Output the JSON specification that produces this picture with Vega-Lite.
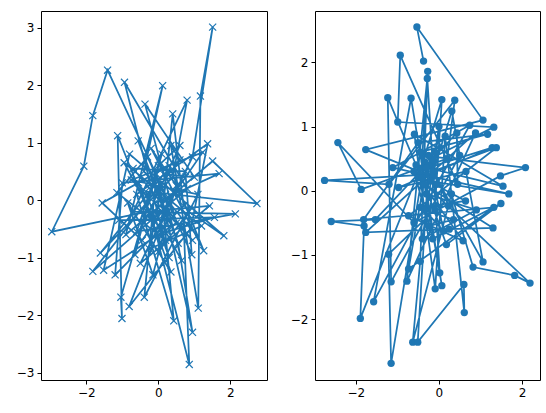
{
 "$schema": "https://vega.github.io/schema/vega-lite/v6.json",
 "padding": {"left": 15, "top": 10, "right": 5, "bottom": 5},
 "spacing": 21,
 "config": {
  "view": {"stroke": "black", "strokeWidth": 1},
  "axis": {"grid": false, "domain": false, "tickColor": "black", "tickSize": 4, "tickWidth": 1, "labelColor": "black", "labelFont": "DejaVu Sans", "labelFontSize": 12, "labelPadding": 3}
 },
 "hconcat": [
  {
   "width": 226, "height": 369,
   "data": {"values": [
    {"i":1,"x":0.2,"y":0.1},{"i":2,"x":-1.41,"y":2.26},{"i":3,"x":-1.82,"y":1.47},{"i":4,"x":-2.07,"y":0.59},{"i":5,"x":-2.96,"y":-0.55},
    {"i":6,"x":-0.3,"y":-0.2},{"i":7,"x":1.42,"y":-0.1},{"i":8,"x":-0.5,"y":-1.1},{"i":9,"x":0.95,"y":0.75},{"i":10,"x":1.51,"y":3.01},
    {"i":11,"x":1.17,"y":1.81},{"i":12,"x":1.11,"y":-1.88},{"i":13,"x":0.6,"y":0.7},{"i":14,"x":-1.82,"y":-1.24},{"i":15,"x":0.8,"y":0.2},
    {"i":16,"x":-0.94,"y":2.05},{"i":17,"x":0.3,"y":-1.0},{"i":18,"x":2.74,"y":-0.06},{"i":19,"x":1.51,"y":0.68},{"i":20,"x":-0.9,"y":-0.6},
    {"i":21,"x":0.12,"y":1.99},{"i":22,"x":-0.4,"y":0.5},{"i":23,"x":0.86,"y":-2.86},{"i":24,"x":-0.1,"y":-0.5},{"i":25,"x":-1.13,"y":1.12},
    {"i":26,"x":-1.01,"y":-2.06},{"i":27,"x":-1.04,"y":-1.69},{"i":28,"x":0.1,"y":0.8},{"i":29,"x":2.14,"y":-0.24},{"i":30,"x":-0.7,"y":-0.2},
    {"i":31,"x":0.8,"y":1.74},{"i":32,"x":0.4,"y":0.4},{"i":33,"x":-1.61,"y":-0.92},{"i":34,"x":1.0,"y":0.4},{"i":35,"x":-0.37,"y":1.67},
    {"i":36,"x":0.5,"y":-0.4},{"i":37,"x":-1.52,"y":-1.22},{"i":38,"x":-0.8,"y":0.8},{"i":39,"x":1.82,"y":-0.62},{"i":40,"x":0.0,"y":-0.9},
    {"i":41,"x":0.4,"y":1.5},{"i":42,"x":0.7,"y":-0.1},{"i":43,"x":-1.2,"y":-1.3},{"i":44,"x":-1.0,"y":0.3},{"i":45,"x":1.69,"y":0.46},
    {"i":46,"x":0.15,"y":-0.25},{"i":47,"x":0.43,"y":-2.1},{"i":48,"x":-0.6,"y":0.1},{"i":49,"x":1.37,"y":0.98},{"i":50,"x":0.9,"y":-0.5},
    {"i":51,"x":-0.81,"y":-1.85},{"i":52,"x":-0.2,"y":0.9},{"i":53,"x":1.26,"y":-0.88},{"i":54,"x":0.3,"y":0.6},{"i":55,"x":-1.56,"y":-0.05},
    {"i":56,"x":-0.45,"y":-0.7},{"i":57,"x":1.23,"y":0.83},{"i":58,"x":1.1,"y":0.1},{"i":59,"x":-0.39,"y":-1.69},{"i":60,"x":-0.05,"y":0.45},
    {"i":61,"x":0.95,"y":-2.3},{"i":62,"x":0.55,"y":-0.75},{"i":63,"x":-0.56,"y":1.03},{"i":64,"x":-1.1,"y":-0.35},{"i":65,"x":1.56,"y":-0.3},
    {"i":66,"x":0.25,"y":-0.55},{"i":67,"x":-1.15,"y":0.13},{"i":68,"x":-0.3,"y":0.75},{"i":69,"x":0.93,"y":-0.95},{"i":70,"x":0.75,"y":0.5},
    {"i":71,"x":-0.7,"y":0.55},{"i":72,"x":0.95,"y":-0.7},{"i":73,"x":0.05,"y":-0.1},{"i":74,"x":0.45,"y":0.15},{"i":75,"x":-0.15,"y":-1.3},
    {"i":76,"x":-0.85,"y":-0.05},{"i":77,"x":0.35,"y":-1.25},{"i":78,"x":-0.55,"y":0.3},{"i":79,"x":0.65,"y":-1.05},{"i":80,"x":0.1,"y":0.25},
    {"i":81,"x":-0.25,"y":-0.85},{"i":82,"x":1.2,"y":-0.45},{"i":83,"x":-0.95,"y":0.65},{"i":84,"x":0.2,"y":-0.7},{"i":85,"x":-0.4,"y":-0.4},
    {"i":86,"x":0.6,"y":0.95},{"i":87,"x":0.0,"y":0.6},{"i":88,"x":-0.65,"y":-0.95},
    {"i":12.5,"x":0.35,"y":0.95},{"i":17.5,"x":-0.35,"y":0.15},{"i":22.5,"x":0.7,"y":-0.35},{"i":28.5,"x":-0.6,"y":-0.55},{"i":33.5,"x":0.15,"y":0.45},
    {"i":39.5,"x":0.85,"y":-0.2},{"i":45.5,"x":-0.1,"y":-0.05},{"i":51.5,"x":0.5,"y":0.25},{"i":57.5,"x":-0.75,"y":0.35},{"i":63.5,"x":0.25,"y":-0.35}
   ]},
   "encoding": {
    "x": {"field": "x", "type": "quantitative", "title": null, "scale": {"domain": [-3.26, 3.02], "nice": false, "zero": false}, "axis": {"values": [-2, 0, 2]}},
    "y": {"field": "y", "type": "quantitative", "title": null, "scale": {"domain": [-3.13, 3.29], "nice": false, "zero": false}, "axis": {"values": [-3, -2, -1, 0, 1, 2, 3]}}
   },
   "layer": [
    {"mark": {"type": "line", "color": "#1f77b4", "strokeWidth": 1.75}, "encoding": {"order": {"field": "i", "type": "quantitative"}}},
    {"mark": {"type": "point", "shape": "M-1,-1L1,1M-1,1L1,-1", "size": 50, "color": "#1f77b4", "filled": false, "opacity": 1, "strokeWidth": 1.2}}
   ]
  },
  {
   "width": 225, "height": 369,
   "data": {"values": [
    {"i":1,"x":-0.37,"y":2.02},{"i":2,"x":-0.53,"y":2.55},{"i":3,"x":1.06,"y":1.1},{"i":4,"x":-1.76,"y":0.64},{"i":5,"x":-0.3,"y":0.25},
    {"i":6,"x":-2.75,"y":0.16},{"i":7,"x":-1.2,"y":0.1},{"i":8,"x":0.38,"y":1.41},{"i":9,"x":-0.45,"y":0.35},{"i":10,"x":-1.89,"y":-1.99},
    {"i":11,"x":-1.8,"y":-0.55},{"i":12,"x":-2.59,"y":-0.48},{"i":13,"x":-1.53,"y":-0.45},{"i":14,"x":0.43,"y":0.9},{"i":15,"x":-0.93,"y":2.11},
    {"i":16,"x":-0.99,"y":1.07},{"i":17,"x":1.32,"y":0.99},{"i":18,"x":-0.35,"y":0.45},{"i":19,"x":-1.15,"y":-2.69},{"i":20,"x":-1.21,"y":-0.99},
    {"i":21,"x":0.07,"y":1.42},{"i":22,"x":-0.5,"y":0.2},{"i":23,"x":2.19,"y":-1.44},{"i":24,"x":1.82,"y":-1.32},{"i":25,"x":0.82,"y":-1.19},
    {"i":26,"x":-0.63,"y":-2.36},{"i":27,"x":-0.45,"y":-1.1},{"i":28,"x":-0.27,"y":1.86},{"i":29,"x":-0.4,"y":0.55},{"i":30,"x":2.08,"y":0.36},
    {"i":31,"x":1.48,"y":0.23},{"i":32,"x":-2.43,"y":0.75},{"i":33,"x":-1.87,"y":0.02},{"i":34,"x":-0.25,"y":0.4},{"i":35,"x":-0.51,"y":-2.36},
    {"i":36,"x":0.6,"y":-1.46},{"i":37,"x":0.61,"y":-1.9},{"i":38,"x":-0.09,"y":-1.53},{"i":39,"x":-0.59,"y":0.88},{"i":40,"x":1.54,"y":0.07},
    {"i":41,"x":-0.55,"y":0.4},{"i":42,"x":-1.23,"y":1.45},{"i":43,"x":-1.15,"y":-1.42},{"i":44,"x":0.31,"y":1.24},{"i":45,"x":-0.2,"y":0.15},
    {"i":46,"x":1.68,"y":-0.05},{"i":47,"x":-1.11,"y":0.36},{"i":48,"x":0.74,"y":1.02},{"i":49,"x":-1.57,"y":-1.73},{"i":50,"x":-0.67,"y":1.44},
    {"i":51,"x":0.07,"y":-1.48},{"i":52,"x":-0.35,"y":0.1},{"i":53,"x":1.3,"y":-0.58},{"i":54,"x":-1.76,"y":-0.65},{"i":55,"x":0.88,"y":0.9},
    {"i":56,"x":-0.77,"y":-1.41},{"i":57,"x":-0.28,"y":1.75},{"i":58,"x":0.02,"y":-1.28},{"i":59,"x":-0.45,"y":0.6},{"i":60,"x":1.17,"y":0.88},
    {"i":61,"x":-1.81,"y":-0.45},{"i":62,"x":1.32,"y":-0.26},{"i":63,"x":-0.73,"y":-1.22},{"i":64,"x":-0.3,"y":0.35},{"i":65,"x":1.28,"y":0.67},
    {"i":66,"x":-0.97,"y":0.05},{"i":67,"x":1.06,"y":-1.11},{"i":68,"x":-0.15,"y":0.3},{"i":69,"x":1.38,"y":0.67},{"i":70,"x":-0.73,"y":-0.39},
    {"i":71,"x":0.58,"y":-0.78},{"i":72,"x":-0.6,"y":0.3},{"i":73,"x":1.49,"y":-0.2},{"i":74,"x":0.18,"y":-0.84},{"i":75,"x":-0.4,"y":0.2},
    {"i":76,"x":0.64,"y":-0.16},{"i":77,"x":-0.45,"y":-0.26},{"i":78,"x":0.23,"y":-0.24},{"i":79,"x":-0.25,"y":0.55},{"i":80,"x":0.11,"y":-0.63},
    {"i":81,"x":-0.35,"y":-0.3},{"i":82,"x":0.35,"y":-0.45},{"i":83,"x":-0.25,"y":-0.55},{"i":84,"x":0.0,"y":1.0},{"i":85,"x":-0.4,"y":-0.75},
    {"i":86,"x":0.9,"y":-0.3},{"i":87,"x":-0.3,"y":-0.05},{"i":88,"x":-0.1,"y":0.6},
    {"i":8.5,"x":0.2,"y":0.5},{"i":14.5,"x":0.45,"y":0.1},{"i":20.5,"x":-0.1,"y":-0.3},{"i":25.5,"x":0.3,"y":-0.05},{"i":31.5,"x":-0.6,"y":-0.5},
    {"i":37.5,"x":0.15,"y":0.85},{"i":43.5,"x":0.5,"y":0.55},{"i":48.5,"x":-0.05,"y":0.1},{"i":53.5,"x":0.25,"y":-0.6},{"i":60.5,"x":-0.5,"y":0.75},
    {"i":66.5,"x":0.65,"y":0.3},{"i":72.5,"x":-0.15,"y":-0.75}
   ]},
   "encoding": {
    "x": {"field": "x", "type": "quantitative", "title": null, "scale": {"domain": [-2.98, 2.43], "nice": false, "zero": false}, "axis": {"values": [-2, 0, 2]}},
    "y": {"field": "y", "type": "quantitative", "title": null, "scale": {"domain": [-2.95, 2.8], "nice": false, "zero": false}, "axis": {"values": [-2, -1, 0, 1, 2]}}
   },
   "layer": [
    {"mark": {"type": "line", "color": "#1f77b4", "strokeWidth": 1.75}, "encoding": {"order": {"field": "i", "type": "quantitative"}}},
    {"mark": {"type": "circle", "size": 54, "color": "#1f77b4", "opacity": 1}}
   ]
  }
 ]
}
